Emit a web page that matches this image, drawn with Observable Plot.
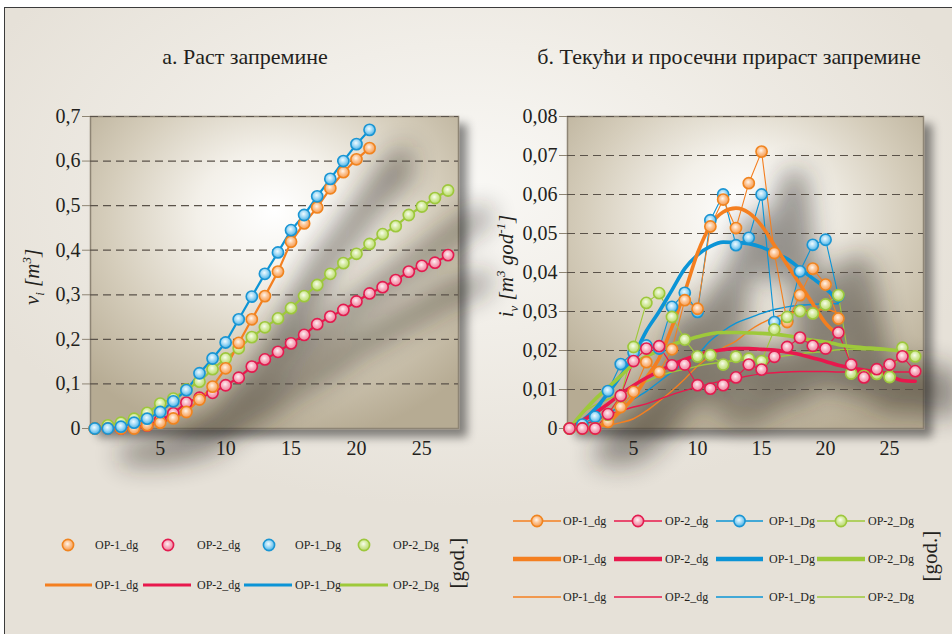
<!DOCTYPE html>
<html>
<head>
<meta charset="utf-8">
<script src="https://cdn.jsdelivr.net/npm/d3@7"></script>
<script src="https://cdn.jsdelivr.net/npm/@observablehq/plot@0.6"></script>
<style>
  html, body { margin:0; padding:0; background:#ffffff; }
  #page { position:relative; width:952px; height:634px; overflow:hidden; font-family:"Liberation Serif","Times New Roman",serif; color:#231f1c; }
  #panel { position:absolute; left:4px; top:7px; width:960px; height:640px; box-sizing:border-box;
    border-top:1.5px solid #3b3b3b; border-left:1.5px solid #3b3b3b;
    background: radial-gradient(ellipse 55% 50% at 48% 28%, #f9f8f5 0%, #f1eee8 45%, #e6e1d8 100%); }
  .title { position:absolute; top:46px; font-size:22px; line-height:22px; white-space:nowrap; transform:translateX(-50%); }
  .ylab { position:absolute; font-size:21px; font-style:italic; white-space:nowrap; line-height:1; transform:translate(-50%,-50%) rotate(-90deg); }
  .ylab sub, .ylab sup { font-size:13px; }
  .plotbox { position:absolute; top:100px; }
  .legend { position:absolute; overflow:visible; }
</style>
</head>
<body>
<div id="page">
  <div id="panel"></div>
  <svg width="0" height="0" style="position:absolute;left:0;top:0">
    <defs>
      <radialGradient id="plotBg" cx="0.5" cy="0.35" r="0.7" fx="0.5" fy="0.3">
        <stop offset="0" stop-color="#ffffff"/>
        <stop offset="0.3" stop-color="#f3f0e9"/>
        <stop offset="0.65" stop-color="#d5cdbb"/>
        <stop offset="1" stop-color="#b6ab93"/>
      </radialGradient>
      <radialGradient id="gOr" cx="0.45" cy="0.4" r="0.6">
        <stop offset="0" stop-color="#fff6ee"/><stop offset="0.45" stop-color="#fcc697"/><stop offset="1" stop-color="#f59a50"/>
      </radialGradient>
      <radialGradient id="gRe" cx="0.45" cy="0.4" r="0.6">
        <stop offset="0" stop-color="#fff1f4"/><stop offset="0.45" stop-color="#f7b5c4"/><stop offset="1" stop-color="#ee7e9a"/>
      </radialGradient>
      <radialGradient id="gBl" cx="0.45" cy="0.4" r="0.6">
        <stop offset="0" stop-color="#f0fbff"/><stop offset="0.45" stop-color="#a8dcf6"/><stop offset="1" stop-color="#45b1e6"/>
      </radialGradient>
      <radialGradient id="gGr" cx="0.45" cy="0.4" r="0.6">
        <stop offset="0" stop-color="#f9fdef"/><stop offset="0.45" stop-color="#d8eca7"/><stop offset="1" stop-color="#b7d96a"/>
      </radialGradient>
      <filter id="blurSh" filterUnits="userSpaceOnUse" x="-200" y="-200" width="1000" height="900">
        <feGaussianBlur stdDeviation="13"/>
      </filter>
      <filter id="dropSh" filterUnits="userSpaceOnUse" x="-200" y="-200" width="1000" height="900">
        <feDropShadow dx="8" dy="8" stdDeviation="5" flood-color="#000" flood-opacity="0.45"/>
      </filter>
    </defs>
  </svg>
  <div class="title" style="left:245px">а. Раст запремине</div>
  <div class="title" style="left:729px">б. Текући и просечни прираст запремине</div>
  <div id="leftPlot" class="plotbox" style="left:0px"></div>
  <div id="rightPlot" class="plotbox" style="left:480px"></div>
  <div class="ylab" style="left:33px;top:277px">v<sub>i</sub> [m<sup>3</sup>]</div>
  <div class="ylab" style="left:507px;top:266px">i<sub>v</sub> [m<sup>3</sup> god<sup>-1</sup>]</div>
  <svg id="legL" class="legend" style="left:0px;top:500px" width="480" height="120"></svg>
  <svg id="legR" class="legend" style="left:480px;top:490px" width="472" height="130"></svg>
</div>
<script>
// ---------- data ----------
const ageOP1 = [0,1,2,3,4,5,6,7,8,9,10,11,12,13,14,15,16,17,18,19,20,21];
const ageOP2 = [0,1,2,3,4,5,6,7,8,9,10,11,12,13,14,15,16,17,18,19,20,21,22,23,24,25,26,27];
const xTicks = [5,10,15,20,25];
const yTicksLeft = [0,0.1,0.2,0.3,0.4,0.5,0.6,0.7];
const yTicksRight = [0,0.01,0.02,0.03,0.04,0.05,0.06,0.07,0.08];
const seriesNames = ["OP-1_dg","OP-2_dg","OP-1_Dg","OP-2_Dg"];

// a. volume growth v_i [m3]
const volOP1_dg = [0,0,0,0,0.0075,0.013,0.0225,0.037,0.065,0.094,0.135,0.192,0.245,0.297,0.352,0.419,0.460,0.496,0.539,0.575,0.604,0.629];
const volOP2_dg = [0,0,0,0.002,0.007,0.019,0.034,0.058,0.069,0.080,0.097,0.114,0.139,0.155,0.172,0.191,0.210,0.234,0.251,0.266,0.285,0.303,0.317,0.333,0.352,0.365,0.372,0.389];
const volOP1_Dg = [0,0,0.004,0.013,0.022,0.037,0.061,0.086,0.124,0.157,0.193,0.245,0.296,0.347,0.395,0.445,0.479,0.521,0.560,0.600,0.638,0.670];
const volOP2_Dg = [0,0.007,0.013,0.022,0.035,0.056,0.067,0.088,0.105,0.133,0.157,0.180,0.205,0.227,0.247,0.270,0.297,0.322,0.347,0.371,0.392,0.414,0.436,0.454,0.479,0.498,0.517,0.534];

// b. current increment (points)
const curOP1_dg = [0,0,0,0.0017,0.0055,0.0094,0.017,0.0145,0.0203,0.0329,0.0307,0.0518,0.0587,0.0514,0.0629,0.071,0.045,0.0273,0.0342,0.041,0.0369,0.0282];
const curOP2_dg = [0,0,0,0.0037,0.0084,0.0173,0.0205,0.0211,0.0162,0.0164,0.0111,0.0102,0.0111,0.0131,0.0164,0.0151,0.0184,0.0209,0.0233,0.0212,0.0205,0.0246,0.0164,0.0131,0.0152,0.0164,0.0185,0.0147];
const curOP1_Dg = [0,0.001,0.003,0.0096,0.0165,0.0195,0.0213,0.0205,0.0312,0.0348,0.0299,0.0534,0.060,0.047,0.0489,0.060,0.0273,0.0277,0.0403,0.0471,0.0484,0.034];
const curOP2_Dg = [0,0,0,0.0035,0.0083,0.0209,0.0322,0.0347,0.0286,0.0228,0.0185,0.0188,0.0164,0.0184,0.0179,0.0173,0.0254,0.0286,0.0301,0.0295,0.0318,0.0342,0.0141,0.0135,0.014,0.0132,0.0207,0.0185];

// b. current increment (smoothed, thick)
const smoOP1_dg = [0,0,0.0005,0.0015,0.0045,0.008,0.013,0.018,0.026,0.035,0.045,0.052,0.0555,0.0565,0.0553,0.052,0.047,0.042,0.037,0.032,0.027,0.024];
const smoOP2_dg = [0,0.002,0.004,0.0063,0.0088,0.011,0.013,0.0147,0.0163,0.0177,0.0188,0.0197,0.0202,0.0205,0.0205,0.0203,0.0201,0.0196,0.019,0.0181,0.0172,0.0162,0.0155,0.015,0.0144,0.0135,0.0123,0.0121];
const smoOP1_Dg = [0,0.002,0.005,0.009,0.0135,0.0185,0.025,0.030,0.0355,0.041,0.0445,0.0467,0.0478,0.0477,0.0474,0.0465,0.045,0.0435,0.041,0.0385,0.036,0.0325];
const smoOP2_Dg = [0,0.004,0.0075,0.0105,0.0135,0.0165,0.0185,0.020,0.0215,0.0225,0.0235,0.0243,0.0246,0.0246,0.0245,0.0244,0.0242,0.0238,0.0232,0.0226,0.0222,0.0215,0.021,0.0207,0.0205,0.0202,0.0198,0.019];

// b. average increment (thin)
const avgOP1_dg = [0,0,0.0003,0.0008,0.0015,0.0025,0.0045,0.007,0.0097,0.0127,0.016,0.0186,0.0207,0.0224,0.025,0.027,0.0285,0.0294,0.030,0.0304,0.0305,0.0295];
const avgOP2_dg = [0,0.001,0.002,0.0035,0.0045,0.0055,0.0063,0.0075,0.0087,0.0097,0.0107,0.0115,0.0122,0.0128,0.0135,0.014,0.0143,0.0145,0.0146,0.0146,0.0146,0.0145,0.0145,0.0145,0.0145,0.0145,0.0145,0.0145];
const avgOP1_Dg = [0,0.001,0.002,0.004,0.0055,0.0075,0.0095,0.012,0.0145,0.017,0.019,0.0225,0.025,0.027,0.0283,0.0295,0.0305,0.0312,0.0316,0.0318,0.032,0.032];
const avgOP2_Dg = [0,0.004,0.006,0.0075,0.009,0.011,0.012,0.0135,0.0145,0.0152,0.016,0.0166,0.017,0.0173,0.0176,0.018,0.0183,0.0187,0.0192,0.0195,0.0197,0.0202,0.0203,0.0202,0.0201,0.020,0.0199,0.0198];

// ---------- styles ----------
const lineColor = {"OP-1_dg":"#f47f20","OP-2_dg":"#e8184d","OP-1_Dg":"#0b94d6","OP-2_Dg":"#9ec93a"};
const dotStroke = {"OP-1_dg":"#f0841f","OP-2_dg":"#e31b4f","OP-1_Dg":"#1a95d3","OP-2_Dg":"#9dc73c"};
const dotFill = {"OP-1_dg":"url(#gOr)","OP-2_dg":"url(#gRe)","OP-1_Dg":"url(#gBl)","OP-2_Dg":"url(#gGr)"};

const rows = (ages, vals, name) => vals.map((v, i) => ({age: ages[i], v, series: name}));
const fmtComma = d => d === 0 ? "0" : String(+d.toFixed(3)).replace(".", ",");

const leftData = {
  "OP-1_dg": rows(ageOP1, volOP1_dg, "OP-1_dg"),
  "OP-2_dg": rows(ageOP2, volOP2_dg, "OP-2_dg"),
  "OP-1_Dg": rows(ageOP1, volOP1_Dg, "OP-1_Dg"),
  "OP-2_Dg": rows(ageOP2, volOP2_Dg, "OP-2_Dg")
};
const curData = {
  "OP-1_dg": rows(ageOP1, curOP1_dg, "OP-1_dg"),
  "OP-2_dg": rows(ageOP2, curOP2_dg, "OP-2_dg"),
  "OP-1_Dg": rows(ageOP1, curOP1_Dg, "OP-1_Dg"),
  "OP-2_Dg": rows(ageOP2, curOP2_Dg, "OP-2_Dg")
};
const smoData = {
  "OP-1_dg": rows(ageOP1, smoOP1_dg, "OP-1_dg"),
  "OP-2_dg": rows(ageOP2, smoOP2_dg, "OP-2_dg"),
  "OP-1_Dg": rows(ageOP1, smoOP1_Dg, "OP-1_Dg"),
  "OP-2_Dg": rows(ageOP2, smoOP2_Dg, "OP-2_Dg")
};
const avgData = {
  "OP-1_dg": rows(ageOP1, avgOP1_dg, "OP-1_dg"),
  "OP-2_dg": rows(ageOP2, avgOP2_dg, "OP-2_dg"),
  "OP-1_Dg": rows(ageOP1, avgOP1_Dg, "OP-1_Dg"),
  "OP-2_Dg": rows(ageOP2, avgOP2_Dg, "OP-2_Dg")
};

function baseMarks(yTicks, shadowRows) {
  return [
    Plot.frame({fill: "url(#plotBg)", stroke: "#8e8574", strokeWidth: 1.5, ariaDescription: "bgframe"}),
    Plot.line(shadowRows, {x: "age", y: "v", z: "series", stroke: "#221c16", strokeWidth: 20, dx: 34, dy: 26, curve: "monotone-x", ariaDescription: "shadow"}),
    Plot.ruleY(yTicks.filter(t => t > 0), {stroke: "#5a5249", strokeWidth: 1.2, strokeDasharray: "8,5"}),
    Plot.axisY({ticks: yTicks, tickFormat: fmtComma, tickSize: 8, tickPadding: 2, stroke: "#8e8574", fill: "#231f1c", fontSize: 20, label: null}),
    Plot.axisX({ticks: xTicks, tickSize: 0, tickPadding: 12, fill: "#231f1c", fontSize: 20, label: null})
  ];
}

// ---------- left panel ----------
const leftOrder = ["OP-2_dg","OP-2_Dg","OP-1_dg","OP-1_Dg"];
const leftMarks = baseMarks(yTicksLeft, leftOrder.flatMap(s => leftData[s]));
leftOrder.forEach(s => {
  leftMarks.push(Plot.line(leftData[s], {x: "age", y: "v", stroke: lineColor[s], strokeWidth: 2.2}));
});
leftOrder.forEach(s => {
  leftMarks.push(Plot.dot(leftData[s], {x: "age", y: "v", r: 5.6, fill: dotFill[s], stroke: dotStroke[s], strokeWidth: 1.6}));
});
const leftPlot = Plot.plot({
  width: 480, height: 370,
  marginLeft: 90, marginRight: 22, marginTop: 16, marginBottom: 42,
  x: {domain: [-0.33, 27.8]},
  y: {domain: [0, 0.7]},
  style: {fontFamily: "Liberation Serif, serif", fontSize: "20px", background: "transparent", overflow: "visible", color: "#231f1c"},
  marks: leftMarks
});
document.getElementById("leftPlot").appendChild(leftPlot);

// ---------- right panel ----------
const rightOrder = ["OP-1_Dg","OP-1_dg","OP-2_Dg","OP-2_dg"];
const rightMarks = baseMarks(yTicksRight, rightOrder.flatMap(s => curData[s].concat(smoData[s].map(d => ({...d, series: d.series + "s"})))));
rightOrder.forEach(s => {
  rightMarks.push(Plot.line(avgData[s], {x: "age", y: "v", stroke: lineColor[s], strokeWidth: 1.4, curve: "monotone-x"}));
});
rightOrder.forEach(s => {
  rightMarks.push(Plot.line(curData[s], {x: "age", y: "v", stroke: lineColor[s], strokeWidth: 1.1}));
});
rightOrder.forEach(s => {
  rightMarks.push(Plot.line(smoData[s], {x: "age", y: "v", stroke: lineColor[s], strokeWidth: 3.6, curve: "monotone-x"}));
});
rightOrder.forEach(s => {
  rightMarks.push(Plot.dot(curData[s], {x: "age", y: "v", r: 5.6, fill: dotFill[s], stroke: dotStroke[s], strokeWidth: 1.6}));
});
const rightPlot = Plot.plot({
  width: 472, height: 370,
  marginLeft: 87, marginRight: 29, marginTop: 16, marginBottom: 42,
  x: {domain: [-0.16, 27.65]},
  y: {domain: [0, 0.08]},
  style: {fontFamily: "Liberation Serif, serif", fontSize: "20px", background: "transparent", overflow: "visible", color: "#231f1c"},
  marks: rightMarks
});
document.getElementById("rightPlot").appendChild(rightPlot);

// decorative filters (shadow under curves, drop shadow of frame)
[leftPlot, rightPlot].forEach(svg => {
  svg.querySelectorAll('[aria-description="shadow"]').forEach(g => { g.setAttribute("filter", "url(#blurSh)"); g.setAttribute("opacity", "0.45"); });
  svg.querySelectorAll('[aria-description="bgframe"]').forEach(g => g.setAttribute("filter", "url(#dropSh)"));
});

// ---------- legends ----------
function legendText(svg, x, y, t) {
  svg.append("text").attr("x", x).attr("y", y + 4).attr("font-family", "Liberation Serif, serif").attr("font-size", 12).attr("fill", "#231f1c").text(t);
}
function godLabel(svg, x, y) {
  svg.append("text").attr("transform", `translate(${x},${y}) rotate(-90)`).attr("text-anchor", "middle").attr("dy", "0.35em")
    .attr("font-family", "Liberation Serif, serif").attr("font-size", 21).attr("fill", "#231f1c").text("[god.]");
}
// left legend (svg top = 500)
const legL = d3.select("#legL");
const lCirc = [68, 168, 269, 364], lText = [95, 197, 295, 393], lLine = [[45,92],[143,191],[244,292],[340,388]];
seriesNames.forEach((s, i) => {
  legL.append("circle").attr("cx", lCirc[i]).attr("cy", 45).attr("r", 5.6).attr("fill", dotFill[s]).attr("stroke", dotStroke[s]).attr("stroke-width", 1.6);
  legendText(legL, lText[i], 45, s);
  legL.append("line").attr("x1", lLine[i][0]).attr("x2", lLine[i][1]).attr("y1", 85).attr("y2", 85).attr("stroke", lineColor[s]).attr("stroke-width", 3);
  legendText(legL, lText[i], 85, s);
});
godLabel(legL, 457, 63);

// right legend (svg left = 480, top = 490)
const legR = d3.select("#legR");
const rLine = [[33,81],[134,182],[236,283],[337,385]], rText = [83, 185, 289, 388];
const rowY = [31, 69, 107], rowW = [1.3, 4.5, 1.5];
seriesNames.forEach((s, i) => {
  rowY.forEach((y, k) => {
    legR.append("line").attr("x1", rLine[i][0]).attr("x2", rLine[i][1]).attr("y1", y).attr("y2", y).attr("stroke", lineColor[s]).attr("stroke-width", rowW[k]);
    if (k === 0) legR.append("circle").attr("cx", (rLine[i][0] + rLine[i][1]) / 2).attr("cy", y).attr("r", 5.6).attr("fill", dotFill[s]).attr("stroke", dotStroke[s]).attr("stroke-width", 1.6);
    legendText(legR, rText[i], y, s);
  });
});
godLabel(legR, 450, 66);
</script>
</body>
</html>
